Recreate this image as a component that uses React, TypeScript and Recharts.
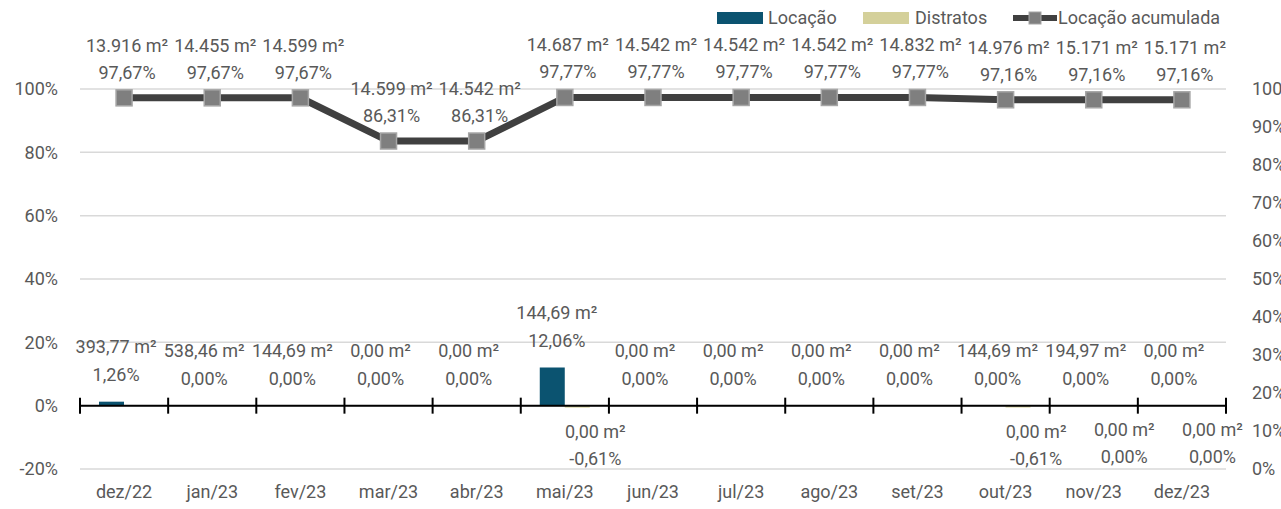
import React from "react";
import {
  Bar,
  CartesianGrid,
  ComposedChart,
  LabelList,
  Legend,
  Line,
  ReferenceLine,
  XAxis,
  YAxis,
} from "recharts";

// values
const months = [
  "dez/22", "jan/23", "fev/23", "mar/23", "abr/23", "mai/23", "jun/23",
  "jul/23", "ago/23", "set/23", "out/23", "nov/23", "dez/23",
];
const locacaoPct = [1.26, 0, 0, 0, 0, 12.06, 0, 0, 0, 0, 0, 0, 0];
const locacaoArea = [393.77, 538.46, 144.69, 0, 0, 144.69, 0, 0, 0, 0, 144.69, 194.97, 0];
const distratosPct = [0, 0, 0, 0, 0, -0.61, 0, 0, 0, 0, -0.61, 0, 0];
const distratosArea = [null, null, null, null, null, 0, null, null, null, null, 0, 0, 0];
const acumuladoArea = [13916, 14455, 14599, 14599, 14542, 14687, 14542, 14542, 14542, 14832, 14976, 15171, 15171];
const acumuladoPct = [97.67, 97.67, 97.67, 86.31, 86.31, 97.77, 97.77, 97.77, 97.77, 97.77, 97.16, 97.16, 97.16];

const leftTicks = [-20, 0, 20, 40, 60, 80, 100];
const rightTicks = [0, 10, 20, 30, 40, 50, 60, 70, 80, 90, 100];

const data = months.map((month, i) => ({
  month,
  locacao: locacaoPct[i],
  distratos: distratosPct[i],
  acumulado: acumuladoPct[i],
}));

const FONT = "Roboto, sans-serif";
const FS = 18;
const TEXT = "#595959";
const C_LOC = "#0B5370";
const C_DIS = "#D4D09A";
const C_LINE = "#404040";
const BAR = 25;

const thousands = (s: string) => s.replace(/\B(?=(\d{3})+(?!\d))/g, ".");
const fmtInt = (v: number) => thousands(String(Math.round(v)));
const fmtDec = (v: number) => {
  const [a, b] = v.toFixed(2).split(".");
  return `${thousands(a)},${b}`;
};
const fmtPct = (v: number) => `${fmtDec(v)}%`;

const TwoLines = ({ x, y1, y2, a, b }: any) => (
  <g fontFamily={FONT} fontSize={FS} fill={TEXT} textAnchor="middle">
    <text x={x} y={y1} dominantBaseline="middle">{a}</text>
    <text x={x} y={y2} dominantBaseline="middle">{b}</text>
  </g>
);

// labels hang off invisible lines so that zero-height bars get them too
const locacaoLabel = (p: any) => {
  const i = p.index;
  return (
    <TwoLines
      key={`l${i}`}
      x={p.x - 8}
      y1={p.y - 53}
      y2={p.y - 25}
      a={`${fmtDec(locacaoArea[i])} m²`}
      b={fmtPct(locacaoPct[i])}
    />
  );
};

const distratosLabel = (p: any) => {
  const i = p.index;
  const area = distratosArea[i];
  if (area === null || area === undefined) return null;
  return (
    <TwoLines
      key={`d${i}`}
      x={p.x + BAR / 2 + 18}
      y1={p.y + 26}
      y2={p.y + 53}
      a={`${fmtDec(area)} m²`}
      b={fmtPct(distratosPct[i])}
    />
  );
};

const acumuladoLabel = (p: any) => {
  const i = p.index;
  return (
    <TwoLines
      key={`a${i}`}
      x={p.x + 3}
      y1={p.y - 51}
      y2={p.y - 24}
      a={`${fmtInt(acumuladoArea[i])} m²`}
      b={fmtPct(acumuladoPct[i])}
    />
  );
};

const SquareDot = (p: any) => (
  <rect
    key={`dot${p.index}`}
    x={p.cx - 8}
    y={p.cy - 8}
    width={16}
    height={16}
    fill="#7F7F7F"
    stroke="#A6A6A6"
    strokeWidth={1.5}
  />
);

// zero line with tick marks between categories
const ZeroAxis = (p: any) => {
  const n = months.length;
  const step = (p.x2 - p.x1) / n;
  const marks = [];
  for (let i = 0; i <= n; i++) {
    const x = p.x1 + i * step;
    marks.push(<line key={i} x1={x} x2={x} y1={p.y1 - 8} y2={p.y1 + 8} stroke="#000" strokeWidth={2} />);
  }
  return (
    <g>
      <line x1={p.x1} x2={p.x2} y1={p.y1} y2={p.y2} stroke="#000" strokeWidth={2} />
      {marks}
    </g>
  );
};

const LegendContent = () => (
  <div style={{ fontFamily: FONT, fontSize: FS, color: TEXT, whiteSpace: "nowrap", position: "relative", height: 24 }}>
    <div style={{ position: "absolute", left: 0, top: 0, display: "flex", alignItems: "center" }}>
      <span style={{ display: "inline-block", width: 46, height: 12, background: C_LOC, marginRight: 5 }} />
      <span>Locação</span>
    </div>
    <div style={{ position: "absolute", left: 146, top: 0, display: "flex", alignItems: "center" }}>
      <span style={{ display: "inline-block", width: 46, height: 12, background: C_DIS, marginRight: 6 }} />
      <span>Distratos</span>
    </div>
    <div style={{ position: "absolute", left: 296, top: 0, display: "flex", alignItems: "center" }}>
      <svg width={44} height={14} style={{ marginRight: 1 }}>
        <line x1={0} x2={44} y1={7} y2={7} stroke={C_LINE} strokeWidth={6} />
        <rect x={16} y={1} width={12} height={12} fill="#7F7F7F" stroke="#A6A6A6" />
      </svg>
      <span>Locação acumulada</span>
    </div>
  </div>
);

export default function App() {
  return (
    <div style={{ position: "absolute", left: 0, top: 0, width: 1281, height: 509 }}>
      <ComposedChart
        width={1281}
        height={509}
        data={data}
        margin={{ top: 89, right: 0, bottom: 0, left: 0 }}
        barGap={0}
      >
        <CartesianGrid yAxisId="left" vertical={false} stroke="#D9D9D9" strokeWidth={1.5} />
        <XAxis
          dataKey="month"
          height={40}
          axisLine={false}
          tickLine={false}
          tickSize={0}
          tickMargin={16}
          tick={{ fill: TEXT, fontSize: FS, fontFamily: FONT }}
          interval={0}
        />
        <YAxis
          yAxisId="left"
          width={80}
          domain={[-20, 100]}
          ticks={leftTicks}
          axisLine={false}
          tickLine={false}
          tickSize={0}
          tickMargin={22}
          tickFormatter={(v) => `${v}%`}
          tick={{ fill: TEXT, fontSize: FS, fontFamily: FONT }}
        />
        <YAxis
          yAxisId="right"
          orientation="right"
          width={55}
          domain={[0, 100]}
          ticks={rightTicks}
          axisLine={false}
          tickLine={false}
          tickSize={0}
          tickMargin={26}
          tickFormatter={(v) => `${v}%`}
          tick={{ fill: TEXT, fontSize: FS, fontFamily: FONT, textAnchor: "start" }}
        />
        <Legend
          layout="horizontal"
          verticalAlign="middle"
          align="center"
          wrapperStyle={{ top: 7, left: 717, width: 570, height: 24 }}
          content={LegendContent}
        />
        <Bar yAxisId="left" dataKey="locacao" name="Locação" fill={C_LOC} barSize={BAR} isAnimationActive={false} />
        <Bar yAxisId="left" dataKey="distratos" name="Distratos" fill={C_DIS} barSize={BAR} isAnimationActive={false} />
        <ReferenceLine yAxisId="left" y={0} shape={ZeroAxis} />
        <Line
          yAxisId="left"
          dataKey="locacao"
          stroke="none"
          dot={false}
          activeDot={false}
          legendType="none"
          isAnimationActive={false}
        >
          <LabelList dataKey="locacao" content={locacaoLabel} />
        </Line>
        <Line
          yAxisId="left"
          dataKey="distratos"
          stroke="none"
          dot={false}
          activeDot={false}
          legendType="none"
          isAnimationActive={false}
        >
          <LabelList dataKey="distratos" content={distratosLabel} />
        </Line>
        <Line
          yAxisId="right"
          dataKey="acumulado"
          name="Locação acumulada"
          stroke={C_LINE}
          strokeWidth={7}
          dot={SquareDot}
          activeDot={false}
          isAnimationActive={false}
        >
          <LabelList dataKey="acumulado" content={acumuladoLabel} />
        </Line>
      </ComposedChart>
    </div>
  );
}
